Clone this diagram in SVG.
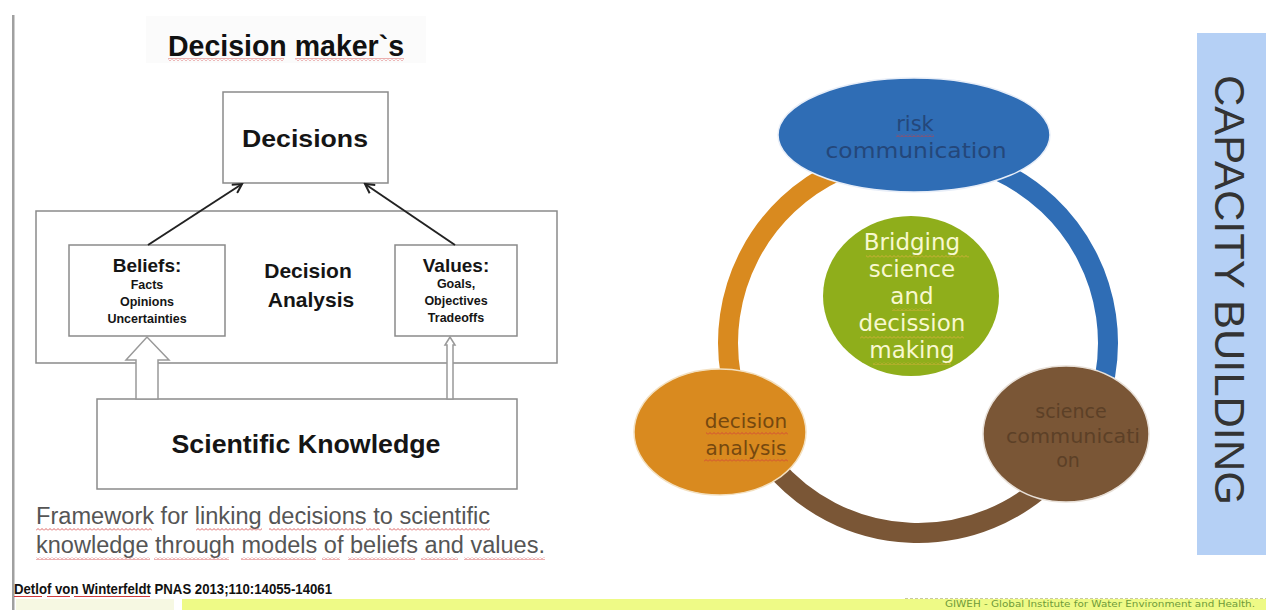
<svg xmlns="http://www.w3.org/2000/svg" width="1266" height="610" viewBox="0 0 1266 610">
<style>
.box{fill:#fff;stroke:#8a8a8a;stroke-width:1.5}
.lb{font-family:"Liberation Sans",Arial,sans-serif;font-weight:bold;fill:#151515;text-anchor:middle}
.cap{font-family:"Liberation Sans",Arial,sans-serif;fill:#555;font-size:23px}
.dv{font-family:"DejaVu Sans",sans-serif;text-anchor:middle}
.arr{stroke:#222;stroke-width:2;fill:none}
.blk{fill:#fff;stroke:#999;stroke-width:1.5}
.sq{fill:url(#wavy)}
.sqy{fill:url(#wavyY)}
</style>
<defs>
<marker id="open" markerWidth="12" markerHeight="12" refX="10" refY="6" orient="auto" markerUnits="userSpaceOnUse">
<path d="M1,1 L10,6 L1,11" fill="none" stroke="#222" stroke-width="2"/>
</marker>
<pattern id="wavy" width="4" height="3" patternUnits="userSpaceOnUse">
<polyline points="0,2.5 2,0.5 4,2.5" fill="none" stroke="#d23b3b" stroke-width="0.8"/>
</pattern>
<pattern id="wavyY" width="4" height="3" patternUnits="userSpaceOnUse">
<polyline points="0,2.5 2,0.5 4,2.5" fill="none" stroke="#e0b040" stroke-width="0.8"/>
</pattern>
</defs>
<rect width="1266" height="610" fill="#fff"/>
<rect x="12" y="15" width="2.5" height="595" fill="#a0a0a0"/>
<rect x="146" y="16" width="280" height="47" fill="#fbfbfb"/>
<text x="168" y="56" font-family="Liberation Sans, Arial, sans-serif" font-weight="bold" font-size="30" fill="#111" textLength="236" lengthAdjust="spacingAndGlyphs">Decision maker`s</text>
<rect class="sq" x="168" y="58" width="116" height="3"/>
<rect class="sq" x="295" y="58" width="109" height="3"/>

<g id="decisions">
<rect class="box" x="223" y="92" width="165" height="91"/>
<text class="lb" x="305" y="147" font-size="24" textLength="126" lengthAdjust="spacingAndGlyphs">Decisions</text>
</g>
<g id="decision-analysis">
<rect class="box" x="36" y="211" width="521" height="152"/>
<text class="lb" x="308" y="278" font-size="21">Decision</text>
<text class="lb" x="311" y="307" font-size="21">Analysis</text>
</g>
<g id="beliefs">
<rect class="box" x="69" y="245" width="156" height="91"/>
<text class="lb" x="147" y="272" font-size="19">Beliefs:</text>
<text class="lb" x="147" y="289" font-size="12.5">Facts</text>
<text class="lb" x="147" y="306" font-size="12.5">Opinions</text>
<text class="lb" x="147" y="323" font-size="12.5">Uncertainties</text>
</g>
<g id="values">
<rect class="box" x="395" y="245" width="122" height="91"/>
<text class="lb" x="456" y="272" font-size="19">Values:</text>
<text class="lb" x="456" y="288" font-size="12.5">Goals,</text>
<text class="lb" x="456" y="305" font-size="12.5">Objectives</text>
<text class="lb" x="456" y="322" font-size="12.5">Tradeoffs</text>
</g>
<g id="scientific-knowledge">
<rect class="box" x="97" y="399" width="420" height="90"/>
<text class="lb" x="306" y="453" font-size="25" textLength="269" lengthAdjust="spacingAndGlyphs">Scientific Knowledge</text>
</g>
<g id="connectors">
<line class="arr" x1="148" y1="245" x2="242" y2="184" marker-end="url(#open)"/>
<line class="arr" x1="455" y1="245" x2="365" y2="184" marker-end="url(#open)"/>
<polygon class="blk" points="136,399 136,360 126,360 147,337 169,360 158,360 158,399"/>
<polygon class="blk" points="447,399 447,345 445,345 450,337 455,345 453,345 453,399"/>
</g>

<text class="cap" x="36" y="524" textLength="454" lengthAdjust="spacingAndGlyphs">Framework for linking decisions to scientific</text>
<text class="cap" x="36" y="553" textLength="509" lengthAdjust="spacingAndGlyphs">knowledge through models of beliefs and values.</text>
<g id="caption-squiggles">
<rect class="sq" x="36" y="528" width="116" height="3"/>
<rect class="sq" x="196" y="528" width="66" height="3"/>
<rect class="sq" x="269" y="528" width="94" height="3"/>
<rect class="sq" x="366" y="528" width="14" height="3"/>
<rect class="sq" x="389" y="528" width="101" height="3"/>
<rect class="sq" x="36" y="557" width="114" height="3"/>
<rect class="sq" x="154" y="557" width="75" height="3"/>
<rect class="sq" x="241" y="557" width="75" height="3"/>
<rect class="sq" x="322" y="557" width="18" height="3"/>
<rect class="sq" x="348" y="557" width="67" height="3"/>
<rect class="sq" x="421" y="557" width="37" height="3"/>
<rect class="sq" x="464" y="557" width="81" height="3"/>
</g>

<rect x="16" y="599" width="158" height="11" fill="#f6f8e2"/>
<rect x="182" y="599" width="1084" height="11" fill="#eefa86"/>
<line x1="905" y1="598.5" x2="1266" y2="598.5" stroke="#c8c8a0" stroke-width="1" stroke-dasharray="3,2"/>
<text x="14" y="594" font-family="Liberation Sans, Arial, sans-serif" font-weight="bold" font-size="15" fill="#111" textLength="318" lengthAdjust="spacingAndGlyphs">Detlof von Winterfeldt PNAS 2013;110:14055-14061</text>
<line x1="14" y1="596.5" x2="42" y2="596.5" stroke="#d23b3b" stroke-width="1"/>
<line x1="47" y1="596.5" x2="70" y2="596.5" stroke="#d23b3b" stroke-width="1"/>
<line x1="74" y1="596.5" x2="150" y2="596.5" stroke="#d23b3b" stroke-width="1"/>
<text x="945" y="607" font-family="DejaVu Sans, sans-serif" font-size="8" fill="#6e9a3a" textLength="310" lengthAdjust="spacingAndGlyphs">GIWEH - Global Institute for Water Environment and Health.</text>

<g id="ring">
<path d="M837.7,170.8 A190,190 0 0 0 730.9,376" fill="none" stroke="#d98a1f" stroke-width="20"/>
<path d="M998.3,170.8 A190,190 0 0 1 1105.1,376" fill="none" stroke="#2f6db5" stroke-width="20"/>
<path d="M772.5,465.1 A190,190 0 0 0 1052.4,477.4" fill="none" stroke="#7a5636" stroke-width="20"/>
</g>
<g id="risk-communication">
<ellipse cx="914" cy="135" rx="136" ry="57" fill="#2f6db5" stroke="#e8eef8" stroke-width="1.5"/>
<text class="dv" x="915" y="131" font-size="21" fill="#24477a">risk</text>
<text class="dv" x="916" y="158" font-size="21" fill="#24477a" textLength="181" lengthAdjust="spacingAndGlyphs">communication</text>
<rect class="sq" x="896" y="134" width="38" height="3"/>
</g>
<g id="bridging">
<ellipse cx="911" cy="296" rx="88" ry="80" fill="#8fae1b"/>
<text class="dv" x="912" y="250" font-size="23" fill="#f8f8d0">Bridging</text>
<text class="dv" x="912" y="277" font-size="23" fill="#f8f8d0">science</text>
<text class="dv" x="912" y="304" font-size="23" fill="#f8f8d0">and</text>
<text class="dv" x="912" y="331" font-size="23" fill="#f8f8d0">decission</text>
<text class="dv" x="912" y="358" font-size="23" fill="#f8f8d0">making</text>
<rect class="sqy" x="866" y="255" width="103" height="3"/>
<rect class="sqy" x="892" y="308" width="38" height="3"/>
<rect class="sqy" x="860" y="336" width="104" height="3"/>
<rect class="sqy" x="873" y="362" width="78" height="3"/>
</g>
<g id="decision-analysis-node">
<ellipse cx="720" cy="432" rx="86" ry="63" fill="#d98a1f" stroke="#f3e0c0" stroke-width="1.5"/>
<text class="dv" x="746" y="428" font-size="20" fill="#75480f">decision</text>
<text class="dv" x="746" y="455" font-size="20" fill="#75480f">analysis</text>
<rect class="sq" x="706" y="432" width="82" height="3"/>
<rect class="sq" x="704" y="459" width="84" height="3"/>
</g>
<g id="science-communication">
<ellipse cx="1066" cy="434" rx="83" ry="68" fill="#7a5636" stroke="#e8e0d8" stroke-width="1.5"/>
<text class="dv" x="1071" y="418" font-size="19" fill="#5c4027">science</text>
<text class="dv" x="1073" y="443" font-size="19" fill="#5c4027" textLength="134" lengthAdjust="spacingAndGlyphs">communicati</text>
<text class="dv" x="1068" y="467" font-size="19" fill="#5c4027">on</text>
</g>
<g id="capacity-building">
<rect x="1197" y="33" width="69" height="522" fill="#b5d0f5"/>
<text transform="translate(1215,75) rotate(90)" x="0" y="0" font-family="Liberation Sans, Arial, sans-serif" font-size="42" fill="#333" textLength="430" lengthAdjust="spacingAndGlyphs">CAPACITY BUILDING</text>
</g>
</svg>
